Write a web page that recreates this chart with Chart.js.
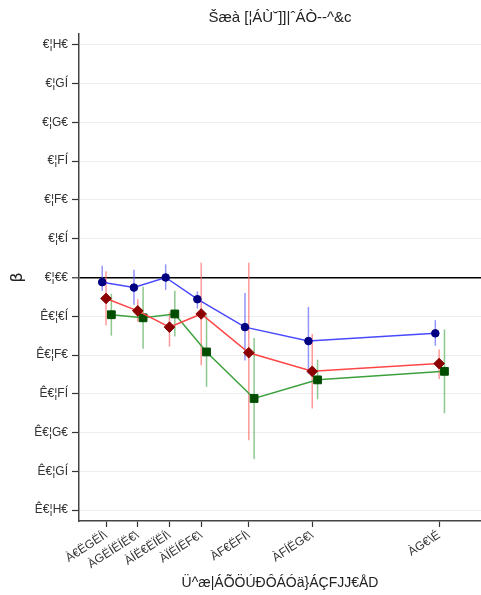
<!DOCTYPE html>
<html>
<head>
<meta charset="utf-8">
<script src="https://cdn.jsdelivr.net/npm/chart.js@4.4.1/dist/chart.umd.min.js"></script>
<style>
  html, body { margin: 0; padding: 0; background: #fff; }
  #wrap { width: 481px; height: 595px; position: relative; }
</style>
</head>
<body>
<div id="wrap"><canvas id="myChart"></canvas></div>
<script>
// bin midpoints and their labels
const binMids = [1.25, 3.75, 6.25, 8.75, 12.5, 17.5, 27.5];
const binLabels = ['À€ËGËÍ\\', 'ÀGËÍËÍË€\\', 'ÀÍË€ËÏËÍ\\', 'ÀÏËÍËF€\\', 'ÀF€ËFÍ\\', 'ÀFÍËG€\\', 'ÀG€\\É'];

const yTickValues = [0.30, 0.25, 0.20, 0.15, 0.10, 0.05, 0.00, -0.05, -0.10, -0.15, -0.20, -0.25, -0.30];
const yTickLabels = ['€¦H€', '€¦GÍ', '€¦G€', '€¦FÍ', '€¦F€', '€¦€Í', '€¦€€',
    'Ê€¦€Í', 'Ê€¦F€', 'Ê€¦FÍ', 'Ê€¦G€', 'Ê€¦GÍ', 'Ê€¦H€'];

// blue series
const blueEst = [-0.006, -0.013, 0.000, -0.028, -0.064, -0.082, -0.072];
const blueLow = [-0.017, -0.035, -0.016, -0.040, -0.107, -0.124, -0.088];
const blueHigh = [0.015, 0.010, 0.017, -0.018, -0.020, -0.038, -0.055];

// red series
const redEst = [-0.027, -0.043, -0.064, -0.047, -0.097, -0.121, -0.111];
const redLow = [-0.062, -0.057, -0.089, -0.113, -0.210, -0.169, -0.131];
const redHigh = [0.008, -0.028, -0.045, 0.019, 0.019, -0.073, -0.093];

// green series
const greenEst = [-0.048, -0.052, -0.047, -0.096, -0.156, -0.132, -0.121];
const greenLow = [-0.075, -0.092, -0.076, -0.141, -0.234, -0.157, -0.175];
const greenHigh = [-0.021, -0.012, -0.017, -0.049, -0.078, -0.106, -0.067];

const titleText = 'Šæà [¦ÁÙ˘]]|ˆÁÒ--^&c';
const xTitleText = 'Ü^æ|ÁÕÖÚÐÔÁÓä}ÁÇFJJ€ÅD';
const yTitleText = 'β';

function makeSeries(est, low, high, shift, lineColor, pointColor, shape, radius, barColor) {
    return {
        data: binMids.map((m, i) => ({ x: m + shift, y: est[i] })),
        low: low,
        high: high,
        shift: shift,
        barColor: barColor,
        borderColor: lineColor,
        borderWidth: 1.5,
        backgroundColor: pointColor,
        pointBackgroundColor: pointColor,
        pointBorderColor: pointColor,
        pointStyle: shape,
        pointRadius: radius,
        pointBorderWidth: 1,
        tension: 0
    };
}

const errorBars = {
    id: 'errorBars',
    beforeDatasetsDraw(chart) {
        const ctx = chart.ctx;
        const xs = chart.scales.x;
        const ys = chart.scales.y;
        ctx.save();
        chart.data.datasets.forEach(ds => {
            ctx.strokeStyle = ds.barColor;
            ctx.lineWidth = 1.5;
            binMids.forEach((m, i) => {
                const px = xs.getPixelForValue(m + ds.shift);
                ctx.beginPath();
                ctx.moveTo(px, ys.getPixelForValue(ds.low[i]));
                ctx.lineTo(px, ys.getPixelForValue(ds.high[i]));
                ctx.stroke();
            });
        });
        ctx.restore();
    }
};

const fontFamily = '"Liberation Sans", Arial, sans-serif';

const ctx = document.getElementById('myChart').getContext('2d');
new Chart(ctx, {
    type: 'line',
    data: {
        datasets: [
            makeSeries(blueEst, blueLow, blueHigh, -0.3, '#4848ff', '#000080', 'circle', 3.8, 'rgba(90,90,255,0.65)'),
            makeSeries(redEst, redLow, redHigh, 0, '#ff4646', '#8b0000', 'rectRot', 5.3, 'rgba(255,100,100,0.65)'),
            makeSeries(greenEst, greenLow, greenHigh, 0.42, '#3ca03c', '#004d00', 'rect', 5.5, 'rgba(80,170,80,0.65)')
        ]
    },
    options: {
        responsive: true,
        maintainAspectRatio: false,
        animation: false,
        layout: { padding: 0, autoPadding: false },
        scales: {
            x: {
                type: 'linear',
                min: -0.88,
                max: 30.8,
                afterBuildTicks: axis => {
                    axis.ticks = binMids.map(v => ({ value: v }));
                },
                afterFit: scale => {
                    scale.height = 74;
                    scale.paddingLeft = 0;
                    scale.paddingRight = 0;
                },
                border: { color: '#444', width: 1.5 },
                grid: { drawOnChartArea: false, tickColor: '#333', tickLength: 6, tickWidth: 1.2 },
                ticks: {
                    autoSkip: false,
                    minRotation: 33,
                    maxRotation: 33,
                    padding: 1,
                    color: '#333',
                    font: { family: fontFamily, size: 12 },
                    callback: (value, index) => binLabels[index]
                },
                title: {
                    display: true,
                    text: xTitleText,
                    color: '#222',
                    font: { family: fontFamily, size: 14 },
                    padding: { top: 0, bottom: 3 }
                }
            },
            y: {
                type: 'linear',
                min: -0.314,
                max: 0.314,
                afterBuildTicks: axis => {
                    axis.ticks = yTickValues.map(v => ({ value: v }));
                },
                afterFit: scale => { scale.width = 79; },
                border: { color: '#444', width: 1.5 },
                grid: {
                    color: c => (c.tick && Math.abs(c.tick.value) < 1e-9) ? '#000' : '#eceff2',
                    lineWidth: c => (c.tick && Math.abs(c.tick.value) < 1e-9) ? 1.6 : 1,
                    tickColor: '#333',
                    tickLength: 7,
                    tickWidth: 1.2
                },
                ticks: {
                    padding: 4,
                    color: '#333',
                    font: { family: fontFamily, size: 12 },
                    callback: (value, index) => yTickLabels[index]
                },
                title: {
                    display: true,
                    text: yTitleText,
                    color: '#222',
                    font: { family: '"DejaVu Sans", sans-serif', size: 16 },
                    padding: { top: 8, bottom: 0 }
                }
            }
        },
        plugins: {
            legend: { display: false },
            tooltip: { enabled: false },
            title: {
                display: true,
                fullSize: false,
                text: titleText,
                color: '#222',
                font: { family: fontFamily, size: 15, weight: 'normal' },
                padding: { top: 9, bottom: 7 }
            }
        }
    },
    plugins: [errorBars]
});
</script>
</body>
</html>
